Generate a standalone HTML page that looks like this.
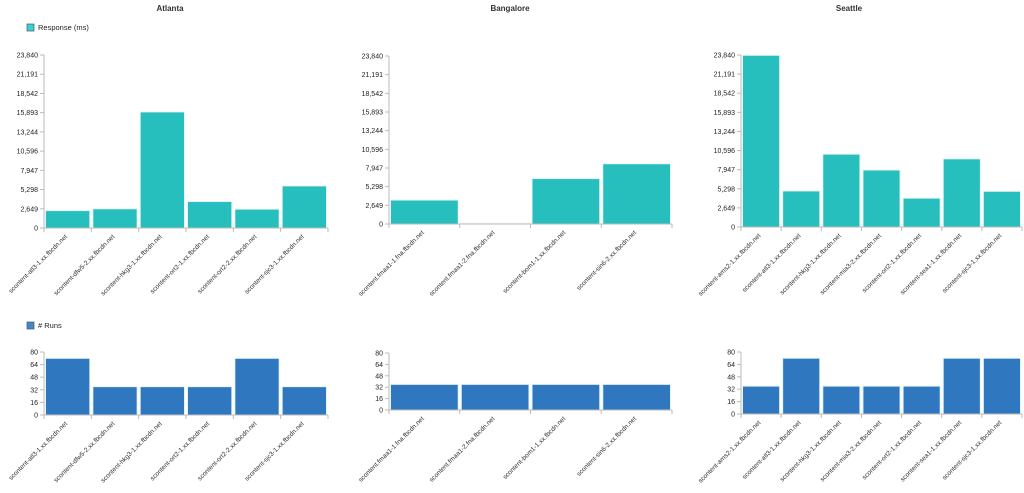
<!DOCTYPE html>
<html><head><meta charset="utf-8"><style>
body{margin:0;background:#fff;width:1024px;height:493px;overflow:hidden;font-family:"Liberation Sans",sans-serif}
svg{position:absolute;left:0;top:0}
</style></head><body>
<svg id="c" width="1024" height="493"></svg>
<script>
const atlCats=["scontent-atl3-1.xx.fbcdn.net","scontent-dfw5-2.xx.fbcdn.net","scontent-hkg3-1.xx.fbcdn.net","scontent-ort2-1.xx.fbcdn.net","scontent-ort2-2.xx.fbcdn.net","scontent-sjc3-1.xx.fbcdn.net"];
const blrCats=["scontent.fmaa1-1.fna.fbcdn.net","scontent.fmaa1-2.fna.fbcdn.net","scontent-bom1-1.xx.fbcdn.net","scontent-sin6-2.xx.fbcdn.net"];
const seaCats=["scontent-ams2-1.xx.fbcdn.net","scontent-atl3-1.xx.fbcdn.net","scontent-hkg3-1.xx.fbcdn.net","scontent-mia3-2.xx.fbcdn.net","scontent-ort2-1.xx.fbcdn.net","scontent-sea1-1.xx.fbcdn.net","scontent-sjc3-1.xx.fbcdn.net"];
const atlResp=[2400,2650,16000,3650,2600,5800];
const blrResp=[3400,120,6450,8550];
const seaResp=[23800,5000,10100,7900,4000,9450,4950];
const atlRuns=[72,36,36,36,72,36];
const blrRuns=[36,36,36,36];
const seaRuns=[36,72,36,36,36,72,72];
const respTicks=[0,2649,5298,7947,10596,13244,15893,18542,21191,23840];
const runTicks=[0,16,32,48,64,80];
const titles=["Atlanta","Bangalore","Seattle"];

const NS="http://www.w3.org/2000/svg";
const svg=document.getElementById('c');
function mk(t,a,p){const e=document.createElementNS(NS,t);for(const k in a)e.setAttribute(k,a[k]);(p||svg).appendChild(e);return e;}
function fmt(v){return v.toLocaleString('en-US');}

function panel(name,cats,vals,ticks,max,x0,x1,yTop,y0,color){
  const g=mk('g',{});
  
  
  const ys=v=>y0-(v/max)*(y0-yTop);
  const bw=(x1-x0)/cats.length;
  ticks.forEach(t=>{
    const y=ys(t);
    mk('line',{x1:x0-4,x2:x0,y1:y,y2:y,stroke:'#bbb','stroke-width':1},g);
    const tx=mk('text',{x:x0-6,y:y+2.5,'text-anchor':'end','font-size':7,fill:'#222'},g);
    tx.textContent=fmt(t);
    
    
  });
  vals.forEach((v,i)=>{
    const bx=x0+i*bw;
    const r=mk('rect',{x:bx+1.5,y:ys(v),width:bw-3,height:y0-ys(v),fill:color,stroke:'#e8f4f4','stroke-width':1},g);
    
    
    mk('line',{x1:bx,x2:bx,y1:y0,y2:y0+4,stroke:'#bbb'},g);
    const cx=bx+bw/2, ty=y0+9;
    const t=mk('text',{x:cx,y:ty,'text-anchor':'end','font-size':6.5,fill:'#333',transform:`rotate(-45 ${cx} ${ty})`},g);
    t.textContent=cats[i];
    
    
  });
  mk('line',{x1:x1,x2:x1,y1:y0,y2:y0+4,stroke:'#bbb'},g);
  mk('line',{x1:x0,x2:x0,y1:yTop,y2:y0,stroke:'#bbb'},g);
  mk('line',{x1:x0,x2:x1,y1:y0,y2:y0,stroke:'#bbb'},g);
}
const tx=[170,510,849];
titles.forEach((t,i)=>{
  const e=mk('text',{x:tx[i],y:11,'text-anchor':'middle','font-size':8,'font-weight':'bold',fill:'#333'});
  e.textContent=t;
  
  
});
function legend(y,color,label,name){
  const g=mk('g',{});
  
  
  mk('rect',{x:27,y:y-6,width:7,height:7,fill:color,stroke:'#555','stroke-width':0.7},g);
  const t=mk('text',{x:38,y:y,'font-size':7.5,fill:'#222'},g);t.textContent=label;
}
legend(30,'#35d4d4','Response (ms)','legend-response');
legend(328,'#3f88d0','# Runs','legend-runs');

panel('atlanta-response-chart',atlCats,atlResp,respTicks,23840,44,328,55,228,'#26bfbd');
panel('bangalore-response-chart',blrCats,blrResp,respTicks,23840,389,672,56,224,'#26bfbd');
panel('seattle-response-chart',seaCats,seaResp,respTicks,23840,741,1022,55,227,'#26bfbd');
panel('atlanta-runs-chart',atlRuns.length?atlCats:[],atlRuns,runTicks,80,44,328,352,415,'#2f78c0');
panel('bangalore-runs-chart',blrCats,blrRuns,runTicks,80,389,672,353,410,'#2f78c0');
panel('seattle-runs-chart',seaCats,seaRuns,runTicks,80,741,1022,352,414,'#2f78c0');
</script>
</body></html>
